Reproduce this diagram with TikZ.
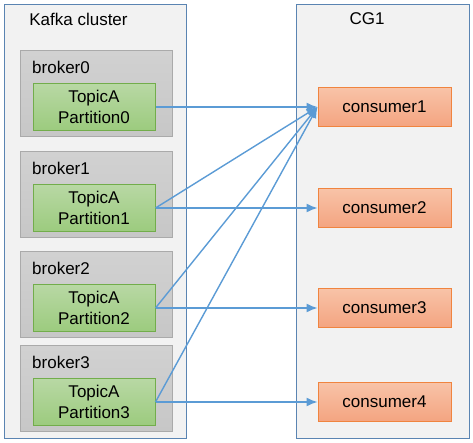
\documentclass[tikz,border=0pt]{standalone}
\usepackage{fontspec}
\setmainfont{Liberation Sans}
\usetikzlibrary{arrows.meta}
\definecolor{grpline}{HTML}{5A84B2}
\definecolor{grpfill}{HTML}{F2F2F2}
\definecolor{brkline}{HTML}{AAAAAA}
\definecolor{prtline}{HTML}{72AD4B}
\definecolor{prttop}{HTML}{B8D8A4}
\definecolor{prtbot}{HTML}{9CCB7E}
\definecolor{conline}{HTML}{F0843F}
\definecolor{contop}{HTML}{F8C3A8}
\definecolor{conbot}{HTML}{F4A480}
\definecolor{arrline}{HTML}{5B9BD5}
\tikzset{
  >={Latex[length=11pt,width=9pt]},
}
\tikzstyle{every node}=[font=\fontsize{17}{21}\selectfont,inner sep=0pt]
\tikzstyle{group}=[draw=grpline,fill=grpfill,line width=1.4pt,anchor=north west]
\tikzstyle{broker}=[draw=brkline,line width=1pt,top color=black!18,bottom color=black!22,
  minimum width=152,minimum height=86,anchor=north]
\tikzstyle{part}=[draw=prtline,line width=1pt,top color=prttop,bottom color=prtbot,
  minimum width=122,minimum height=47,align=center]
\tikzstyle{consumer}=[draw=conline,line width=1pt,top color=contop,bottom color=conbot,
  minimum width=133,minimum height=39]
\tikzstyle{conn}=[->,draw=arrline,line width=1.4pt]

\begin{document}
\begin{tikzpicture}[x=1pt,y=-1pt]
    \useasboundingbox (0,0) rectangle (473,443);
    \node[group,minimum width=182,minimum height=434] (cluster) at (4,4) {};
    \node[group,minimum width=173,minimum height=434] (cg) at (296,4) {};
    \node (clusterlbl) at (78.5,19) {Kafka cluster};
    \node (cglbl) at (367,19) {CG1};
    \foreach \i/\y in {0/107,1/208,2/308,3/402} {
      \pgfmathtruncatemacro\j{\i+1}
      \node[broker] (b\i) at (96,\y-57) {};
      \node[anchor=west] (bl\i) at (32,\y-40) {broker\i};
      \node[part] (p\i) at (94,\y) {TopicA\\Partition\i};
      \node[consumer] (c\i) at (384.5,\y) {consumer\j};
    }
    \foreach \i in {0,...,3}
      \draw[conn] (p\i.east) -- (c\i.west);
    \foreach \i in {1,2,3}
      \draw[conn] (p\i.east) -- (c0.west);
\end{tikzpicture}
\end{document}
